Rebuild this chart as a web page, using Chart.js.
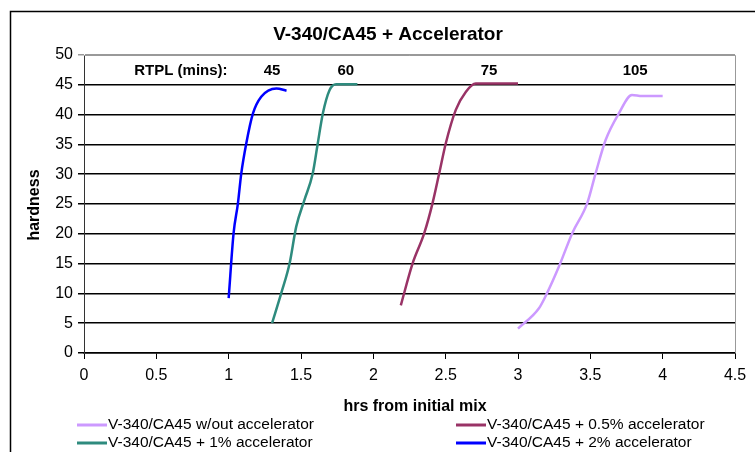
<!DOCTYPE html>
<html><head><meta charset="utf-8">
<script src="https://cdn.jsdelivr.net/npm/chart.js@4.4.1/dist/chart.umd.min.js"></script>
<style>html,body{margin:0;padding:0;background:#fff;}#wrap{width:755px;height:452px;position:relative;}</style>
</head><body><div id="wrap"><canvas id="c" width="755" height="452"></canvas></div>
<script>
const halfX = [2.19,2.271,2.352,2.409,2.455,2.501,2.57,2.639,2.708,3.0];
const halfY = [8.0,15.0,20.1,25.1,30.1,35.2,40.8,43.8,45.2,45.2];
const oneX = [1.3,1.363,1.421,1.467,1.524,1.581,1.616,1.651,1.697,1.743,1.89];
const oneY = [5.0,10.0,15.0,21.2,25.7,30.1,35.2,40.2,44.1,45.1,45.1];
const twoX = [1.0,1.034,1.064,1.087,1.122,1.168,1.225,1.33,1.4];
const twoY = [9.2,20.1,25.1,30.1,35.2,40.2,43.0,44.4,44.0];
const noAccX = [3.0,3.145,3.2,3.283,3.375,3.478,3.536,3.605,3.697,3.788,3.857,4.0];
const noAccY = [4.1,7.5,10.0,14.5,20.1,25.1,30.1,35.7,40.2,43.3,43.1,43.1];
const seriesNames = ["V-340/CA45 w/out accelerator","V-340/CA45 + 0.5% accelerator","V-340/CA45 + 1% accelerator","V-340/CA45 + 2% accelerator"];
const seriesColors = ["#CC99FF","#993366","#2E8B7E","#0000FF"];
const rtplLabels = ["RTPL (mins):","45","60","75","105"];
const rtplX = [0.67,1.3,1.81,2.8,3.81];
const rtplY = 47.3;
const chartTitle = "V-340/CA45 + Accelerator";
const xTitle = "hrs from initial mix";
const yTitle = "hardness";

function pts(xs, ys){ return xs.map((x,i)=>({x:x,y:ys[i]})); }
const allX=[noAccX,halfX,oneX,twoX], allY=[noAccY,halfY,oneY,twoY];
const FONT = "'Liberation Sans', Arial, sans-serif";

const decor = {
  id:'decor',
  afterDraw(chart){
    const ctx=chart.ctx, a=chart.chartArea, xs=chart.scales.x, ys=chart.scales.y;
    ctx.save();
    ctx.strokeStyle='#000'; ctx.lineWidth=1.5;
    ctx.beginPath(); ctx.moveTo(10.5,460); ctx.lineTo(10.5,11.5); ctx.lineTo(760,11.5); ctx.stroke();
    ctx.strokeStyle='#999'; ctx.lineWidth=1;
    ctx.beginPath(); ctx.moveTo(a.left,a.top+0.5); ctx.lineTo(a.right+0.5,a.top+0.5); ctx.lineTo(a.right+0.5,a.bottom); ctx.stroke();
    ctx.fillStyle='#000';
    ctx.font="bold 19px "+FONT; ctx.textAlign='center'; ctx.textBaseline='middle';
    ctx.fillText(chartTitle, 388, 35);
    ctx.font="bold 16px "+FONT;
    ctx.fillText(xTitle, 415, 407);
    ctx.save(); ctx.translate(35, 205); ctx.rotate(-Math.PI/2); ctx.fillText(yTitle,0,0); ctx.restore();
    ctx.font="bold 15px "+FONT;
    rtplLabels.forEach((t,i)=>ctx.fillText(t, xs.getPixelForValue(rtplX[i]), ys.getPixelForValue(rtplY)));
    ctx.font="15.5px "+FONT; ctx.textAlign='left';
    const pos=[[77,425],[456,425],[77,443],[456,443]];
    [0,1,2,3].forEach((si,k)=>{
      const [lx,ly]=pos[k];
      ctx.strokeStyle=seriesColors[si]; ctx.lineWidth=3;
      ctx.beginPath(); ctx.moveTo(lx,ly); ctx.lineTo(lx+30,ly); ctx.stroke();
      ctx.fillStyle='#000'; ctx.fillText(seriesNames[si], lx+31, ly);
    });
    ctx.restore();
  }
};
new Chart(document.getElementById('c'),{
  type:'scatter',
  data:{datasets:[0,1,2,3].map(i=>({
    label:seriesNames[i], data:pts(allX[i],allY[i]), showLine:true,
    borderColor:seriesColors[i], backgroundColor:seriesColors[i], borderWidth:2.5,
    pointRadius:0, cubicInterpolationMode:'monotone', fill:false
  }))},
  options:{
    responsive:false, animation:false, devicePixelRatio:1,
    layout:{padding:{left:0,right:20,top:55,bottom:0}},
    plugins:{legend:{display:false},title:{display:false},tooltip:{enabled:false}},
    scales:{
      x:{type:'linear',min:0,max:4.5,
        ticks:{stepSize:0.5,color:'#000',font:{family:FONT,size:16},padding:7,maxRotation:0,
          callback:v=>String(v)},
        grid:{drawOnChartArea:false,drawTicks:true,tickLength:6,color:'#000',lineWidth:1},
        border:{color:'#000',width:1.5},
        afterFit(s){s.height=99;}
      },
      y:{min:0,max:50,
        ticks:{stepSize:5,color:'#000',font:{family:FONT,size:16},padding:5},
        grid:{color:c=>c.tick&&c.tick.value===50?'#999':'#000',lineWidth:1.5,tickLength:6},
        border:{color:'#333',width:1},
        afterFit(s){s.width=84;}
      }
    }
  },
  plugins:[decor]
});
</script></body></html>
